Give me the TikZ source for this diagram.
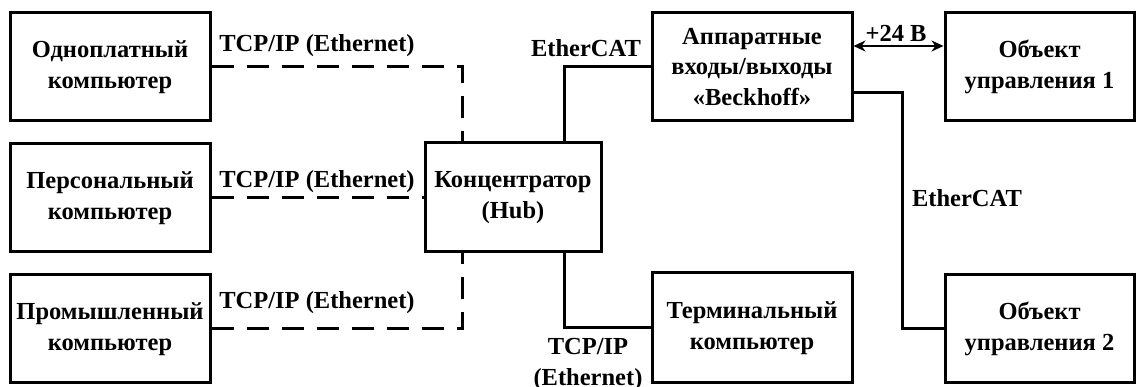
\documentclass[tikz,border=0pt]{standalone}
\usepackage{fontspec}
\setmainfont{Liberation Serif}
\usetikzlibrary{arrows.meta,calc}
\begin{document}
\begin{tikzpicture}[x=1pt,y=-1pt,
  box/.style={draw,line width=3pt,rectangle,align=center,inner sep=0pt,
    font=\fontsize{24.5}{30.5}\selectfont\bfseries},
  lbl/.style={inner sep=0pt,align=center,font=\fontsize{24.5}{31}\selectfont\bfseries},
  link/.style={line width=3pt},
  dlink/.style={line width=3pt,dash pattern=on 22pt off 13pt}]
\useasboundingbox (0,0) rectangle (1136,387);
\node[box,minimum width=200pt,minimum height=108pt] (b1) at (110,67) {Одноплатный\\компьютер};
\node[box,minimum width=200pt,minimum height=108pt] (b2) at (110,198) {Персональный\\компьютер};
\node[box,minimum width=200pt,minimum height=108pt] (b3) at (110,329) {Промышленный\\компьютер};
\node[box,minimum width=176pt,minimum height=109pt] (hub) at (513,197.5) {Концентратор\\(Hub)};
\node[box,minimum width=200pt,minimum height=108pt] (bk) at (752,67) {Аппаратные\\входы/выходы\\«Beckhoff»};
\node[box,minimum width=200pt,minimum height=110pt] (term) at (752,328) {Терминальный\\компьютер};
\node[box,minimum width=189pt,minimum height=108pt] (o1) at (1039.5,67) {Объект\\управления 1};
\node[box,minimum width=189pt,minimum height=108pt] (o2) at (1039.5,329) {Объект\\управления 2};
\coordinate (d1) at (462,143);
\coordinate (d3) at (462,252);
\coordinate (e1) at (564,143);
\coordinate (e2) at (564,252);
\coordinate (r1) at (902,93);
\coordinate (y46) at (0,46);
\draw[dlink] (b1.east) -| (d1);
\draw[dlink] (b2.east) -- (b2.east -| hub.west);
\draw[dlink] (b3.east) -| (d3);
\draw[link] (e1) |- (bk.west);
\draw[link] (e2) |- (term.west);
\draw[link] (bk.east |- r1) -| (r1) |- (o2.west);
\draw[line width=2.4pt,{Stealth[length=12pt,width=11pt]}-{Stealth[length=12pt,width=11pt]}] (bk.east |- y46) -- (o1.west |- y46);
\node[lbl] (l1) at (317,46) {TCP/IP (Ethernet)};
\node[lbl] (l2) at (317,182) {TCP/IP (Ethernet)};
\node[lbl] (l3) at (317,303) {TCP/IP (Ethernet)};
\node[lbl] (l4) at (586,48) {EtherCAT};
\node[lbl] (l5) at (896,33) {+24 В};
\node[lbl] (l6) at (967,198) {EtherCAT};
\node[lbl] (l7) at (588,364) {TCP/IP\\(Ethernet)};
\end{tikzpicture}
\end{document}
